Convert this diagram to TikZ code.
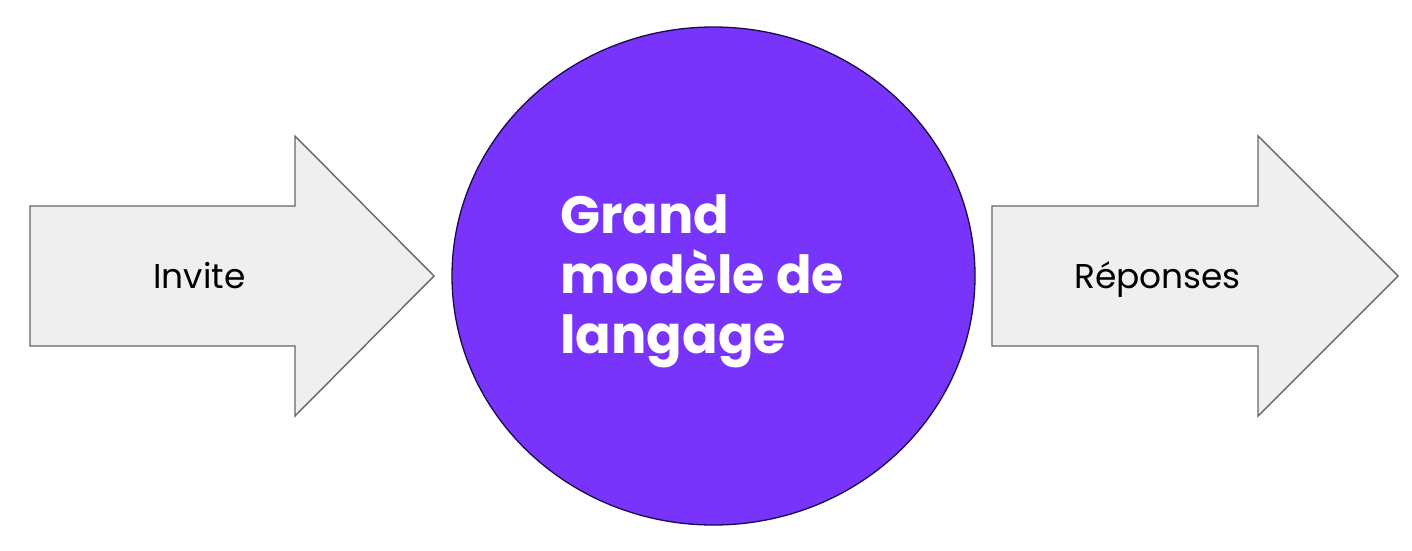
\documentclass[tikz,border=0pt]{standalone}
\usepackage{fontspec}
\setmainfont{Poppins}
\usetikzlibrary{shapes.geometric}
\definecolor{llmfill}{HTML}{7834FB}
\definecolor{llmline}{HTML}{1A0A4A}
\definecolor{arrowfill}{HTML}{EFEFEF}
\definecolor{arrowline}{HTML}{666666}
\tikzset{
  bigarrow/.style={fill=arrowfill, draw=arrowline, line width=1.4pt, line join=miter},
  arrowlabel/.style={font=\fontsize{34.4}{40}\selectfont, text=black, inner sep=0pt},
  llmlabel/.style={font=\fontsize{52.5}{60}\selectfont\bfseries, text=white, align=left, inner sep=0pt},
}
\begin{document}
\begin{tikzpicture}[x=1pt,y=-1pt]
\useasboundingbox[fill=white] (0,0) rectangle (1412,550);
% left arrow
\draw[bigarrow] (30,206) -- (295,206) -- (295,136) -- (434,276) -- (295,416) -- (295,346) -- (30,346) -- cycle;
% right arrow
\draw[bigarrow] (992,206) -- (1258,206) -- (1258,136) -- (1398,276) -- (1258,416) -- (1258,346) -- (992,346) -- cycle;
% circle
\node[ellipse, fill=llmfill, draw=llmline, line width=1.3pt, minimum width=523pt, minimum height=498pt, inner sep=0pt] (llm) at (713.5,276) {};
\node[arrowlabel, anchor=base] (invite) at (199.5,288) {Invite};
\node[arrowlabel, anchor=base] (reponses) at (1157.5,288) {Réponses};
\node[llmlabel, anchor=base west] (llmtext) at (560,353) {Grand\\modèle de\\langage};
\end{tikzpicture}
\end{document}
